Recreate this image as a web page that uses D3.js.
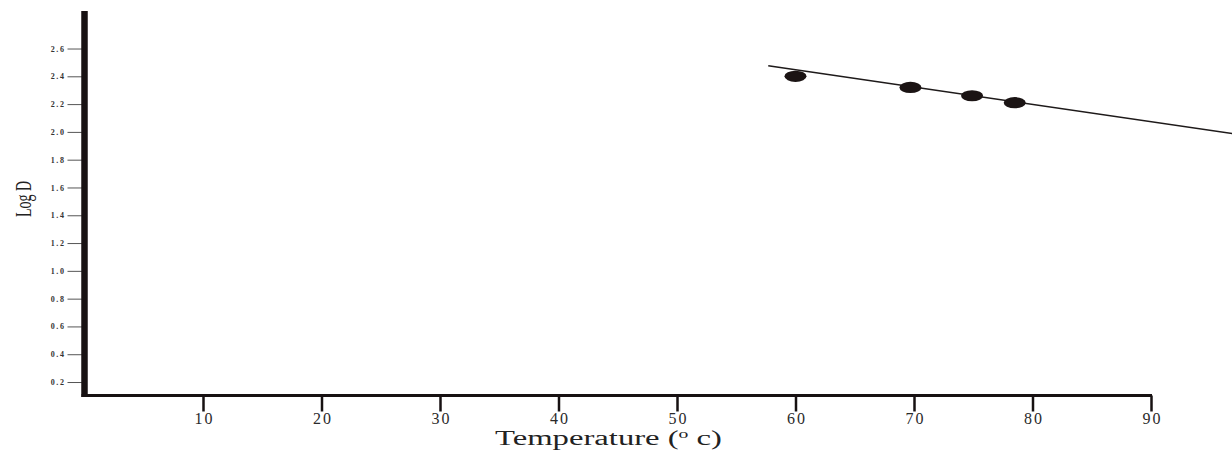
<!DOCTYPE html>
<html>
<head>
<meta charset="utf-8">
<script src="https://cdn.jsdelivr.net/npm/d3@7"></script>
<style>
  html, body { margin: 0; padding: 0; background: #fff; }
  svg { display: block; }
</style>
</head>
<body>
<div id="chart"></div>
<script>
// data
const tempC = [60, 69.7, 74.9, 78.5]; // measured points, x
const logD = [2.4, 2.32, 2.26, 2.21]; // measured points, y
const fitTemp = [57.7, 97]; // fitted line ends, x
const fitLogD = [2.476, 1.986]; // fitted line ends, y
const xTicks = [10, 20, 30, 40, 50, 60, 70, 80, 90];
const yTicks = [0.2, 0.4, 0.6, 0.8, 1.0, 1.2, 1.4, 1.6, 1.8, 2.0, 2.2, 2.4, 2.6];

const width = 1232;
const height = 453;
const ink = "#171112";
const serif = "'Liberation Serif', 'Times New Roman', serif";

const x = d3.scaleLinear().domain([0, 90]).range([84.5, 1151]);
const y = d3.scaleLinear().domain([0.103, 2.87]).range([395.5, 11]);

const svg = d3
  .select("#chart")
  .append("svg")
  .attr("width", width)
  .attr("height", height);

//--- y ticks ---//
const yAxis = d3
  .axisLeft(y)
  .tickValues(yTicks)
  .tickSize(17)
  .tickPadding(2)
  .tickFormat(d3.format(".1f"));

const gy = svg.append("g").attr("transform", "translate(" + x(0) + ",0)").call(yAxis);
gy.select(".domain").remove();
gy.selectAll(".tick line").attr("stroke", "#555").attr("stroke-width", 1);
gy.selectAll(".tick text")
  .attr("fill", "#333")
  .style("font-family", serif)
  .style("font-size", "8px")
  .style("font-weight", "bold")
  .style("letter-spacing", "1.6px");

//--- x ticks ---//
const xAxis = d3.axisBottom(x).tickValues(xTicks).tickSize(16).tickFormat(d3.format("d"));

const gx = svg.append("g").attr("transform", "translate(0," + y.range()[0] + ")").call(xAxis);
gx.select(".domain").remove();
gx.selectAll(".tick line").attr("stroke", ink).attr("stroke-width", 2.5);
gx.selectAll(".tick text")
  .attr("y", 28)
  .attr("dy", 0)
  .attr("dx", 1)
  .attr("fill", "#2a2a2a")
  .style("font-family", serif)
  .style("font-size", "16px")
  .style("letter-spacing", "2px");

//--- thick axis lines ---//
svg
  .append("line")
  .attr("x1", x(0))
  .attr("x2", x(0))
  .attr("y1", y.range()[1])
  .attr("y2", y.range()[0] + 1.5)
  .attr("stroke", ink)
  .attr("stroke-width", 6.5);

svg
  .append("line")
  .attr("x1", x(0) - 3)
  .attr("x2", x(90) + 1)
  .attr("y1", y.range()[0])
  .attr("y2", y.range()[0])
  .attr("stroke", ink)
  .attr("stroke-width", 3);

//--- fitted line ---//
const fit = fitTemp.map((t, i) => [t, fitLogD[i]]);
svg
  .append("path")
  .datum(fit)
  .attr("fill", "none")
  .attr("stroke", "#1e1a1a")
  .attr("stroke-width", 1.5)
  .attr(
    "d",
    d3
      .line()
      .x((d) => x(d[0]))
      .y((d) => y(d[1]))
  );

//--- points ---//
svg
  .selectAll(".pt")
  .data(tempC.map((t, i) => ({ t: t, v: logD[i] })))
  .enter()
  .append("ellipse")
  .attr("class", "pt")
  .attr("cx", (d) => x(d.t))
  .attr("cy", (d) => y(d.v))
  .attr("rx", 11)
  .attr("ry", 5.6)
  .attr("fill", "#1b1414");

//--- titles ---//
const xt = svg
  .append("text")
  .attr("x", 495)
  .attr("y", 445)
  .attr("textLength", 227)
  .attr("lengthAdjust", "spacingAndGlyphs")
  .attr("fill", "#222")
  .style("font-family", serif)
  .style("font-size", "20px");
xt.append("tspan").text("Temperature (");
xt.append("tspan").attr("dy", -7).style("font-size", "12px").text("o");
xt.append("tspan").attr("dy", 7).text(" c)");

svg
  .append("text")
  .attr("transform", "translate(31,199) rotate(-90)")
  .attr("text-anchor", "middle")
  .attr("textLength", 36)
  .attr("lengthAdjust", "spacingAndGlyphs")
  .attr("fill", "#222")
  .style("font-family", serif)
  .style("font-size", "23px")
  .text("Log D");
</script>
</body>
</html>
